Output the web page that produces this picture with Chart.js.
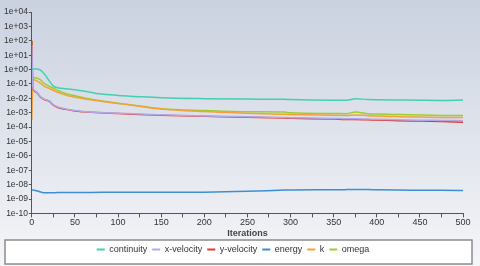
<!DOCTYPE html>
<html>
<head>
<meta charset="utf-8">
<script src="https://cdn.jsdelivr.net/npm/chart.js@4.4.1/dist/chart.umd.min.js"></script>
<style>
  html, body { margin: 0; padding: 0; background: #fff; }
  #wrap { width: 480px; height: 266px; }
</style>
</head>
<body>
<div id="wrap"><canvas id="residuals"></canvas></div>
<script>
// residual history
const iterations = [0, 1, 5, 10, 15, 20, 25, 30, 40, 50, 60, 80, 100, 125, 150, 200, 250, 293, 300, 350, 365, 375, 390, 400, 425, 450, 475, 500];
const continuity = [1.0, 1.1, 1.1, 0.9, 0.45, 0.17, 0.07, 0.055, 0.047, 0.04, 0.032, 0.02, 0.016, 0.013, 0.011, 0.0095, 0.0088, 0.0086, 0.0082, 0.0074, 0.0074, 0.0095, 0.0082, 0.0079, 0.0076, 0.0073, 0.0071, 0.0075];
const xVelocity = [50, 0.062, 0.03, 0.013, 0.0085, 0.0068, 0.0036, 0.0025, 0.0018, 0.0014, 0.0012, 0.00103, 0.00093, 0.0008, 0.00072, 0.0006, 0.00052, 0.00046, 0.00045, 0.0004, 0.00038, 0.00038, 0.00036, 0.00035, 0.00032, 0.0003, 0.00029, 0.00028];
const yVelocity = [100, 0.058, 0.027, 0.012, 0.008, 0.0063, 0.0033, 0.0023, 0.0017, 0.0013, 0.00115, 0.00098, 0.00088, 0.00075, 0.00067, 0.00056, 0.00048, 0.00042, 0.00041, 0.00036, 0.00034, 0.00034, 0.00032, 0.00031, 0.00028, 0.00026, 0.00024, 0.00022];
const energy = [4.2e-9, 4.2e-9, 3.8e-9, 3.1e-9, 2.7e-9, 2.7e-9, 2.75e-9, 2.8e-9, 2.8e-9, 2.85e-9, 2.85e-9, 2.9e-9, 2.9e-9, 2.95e-9, 2.95e-9, 3.0e-9, 3.4e-9, 4.2e-9, 4.3e-9, 4.4e-9, 4.5e-9, 4.6e-9, 4.5e-9, 4.4e-9, 4.2e-9, 4.1e-9, 4.0e-9, 3.9e-9];
const kResid = [0.0003, 0.2, 0.17, 0.11, 0.065, 0.049, 0.035, 0.026, 0.016, 0.012, 0.0094, 0.0063, 0.0044, 0.0028, 0.0018, 0.0012, 0.00093, 0.00078, 0.00076, 0.00066, 0.00065, 0.0007, 0.00062, 0.00058, 0.00053, 0.0005, 0.00047, 0.00046];
const omega = [100, 0.3, 0.26, 0.19, 0.1, 0.07, 0.05, 0.035, 0.021, 0.015, 0.011, 0.0068, 0.0046, 0.0029, 0.0019, 0.0014, 0.00115, 0.0011, 0.00098, 0.00088, 0.00086, 0.0011, 0.00084, 0.0008, 0.00074, 0.00069, 0.00065, 0.00063];

const decadeTicks = [1e-10, 1e-9, 1e-8, 1e-7, 1e-6, 1e-5, 1e-4, 1e-3, 1e-2, 1e-1, 1, 1e1, 1e2, 1e3, 1e4];

const toPoints = vals => vals.map((v, i) => ({ x: iterations[i], y: v }));

const series = [
  { label: 'continuity', data: continuity, color: '#45cfb0' },
  { label: 'x-velocity', data: xVelocity, color: '#b3a8e6' },
  { label: 'y-velocity', data: yVelocity, color: '#e8352f' },
  { label: 'energy', data: energy, color: '#3d8fd4' },
  { label: 'k', data: kResid, color: '#f4a03c' },
  { label: 'omega', data: omega, color: '#9bcf2c' }
];

// gradient backdrop + framed legend
const backdrop = {
  id: 'backdrop',
  beforeDraw(chart) {
    const ctx = chart.ctx;
    const g = ctx.createLinearGradient(0, 0, 0, chart.height);
    g.addColorStop(0, '#cad2e0');
    g.addColorStop(0.8, '#eceef3');
    g.addColorStop(1, '#f5f6f8');
    ctx.save();
    ctx.fillStyle = g;
    ctx.fillRect(0, 0, chart.width, chart.height);
    const lg = chart.legend;
    ctx.fillStyle = '#ffffff';
    ctx.fillRect(5, lg.top, 467, lg.bottom - lg.top);
    ctx.strokeStyle = '#8c8c8c';
    ctx.lineWidth = 1.5;
    ctx.strokeRect(5, lg.top, 467, lg.bottom - lg.top);
    ctx.restore();
  }
};

const sup = (n) => {
  const e = Math.round(Math.log10(n));
  const s = Math.abs(e) < 10 ? '0' + Math.abs(e) : '' + Math.abs(e);
  return '1e' + (e < 0 ? '-' : '+') + s;
};

new Chart(document.getElementById('residuals'), {
  type: 'line',
  data: {
    datasets: series.map(s => ({
      label: s.label,
      data: toPoints(s.data),
      borderColor: s.color,
      backgroundColor: s.color,
      borderWidth: 1.5,
      pointRadius: 0,
      cubicInterpolationMode: 'monotone',
      fill: false
    }))
  },
  options: {
    responsive: true,
    maintainAspectRatio: false,
    animation: false,
    layout: { padding: { left: 3, right: 17, top: 12, bottom: 2 } },
    scales: {
      x: {
        type: 'linear',
        min: 0,
        max: 500,
        ticks: {
          stepSize: 25,
          maxRotation: 0,
          autoSkip: false,
          color: '#333',
          font: { family: 'Liberation Sans', size: 9 },
          padding: 0,
          callback: v => (v % 50 === 0 ? v : '')
        },
        grid: { drawOnChartArea: false, drawTicks: true, tickLength: 4, tickColor: '#555' },
        border: { display: true, color: '#555', width: 1 },
        title: {
          display: true,
          text: 'Iterations',
          color: '#444',
          font: { family: 'Liberation Sans', size: 9, weight: '600' },
          padding: { top: 0, bottom: 1 }
        }
      },
      y: {
        type: 'logarithmic',
        min: 1e-10,
        max: 1e4,
        afterBuildTicks: axis => { axis.ticks = decadeTicks.map(v => ({ value: v })); },
        ticks: {
          color: '#333',
          font: { family: 'Liberation Sans', size: 8.5 },
          padding: 1,
          callback: v => sup(v)
        },
        grid: { drawOnChartArea: false, drawTicks: true, tickLength: 3, tickColor: '#555' },
        border: { display: true, color: '#555', width: 1 }
      }
    },
    plugins: {
      legend: {
        position: 'bottom',
        labels: {
          boxWidth: 8,
          boxHeight: 2,
          padding: 5,
          color: '#333',
          font: { family: 'Liberation Sans', size: 9 },
          generateLabels: chart => Chart.defaults.plugins.legend.labels.generateLabels(chart).map(it => ({ ...it, lineWidth: 0 }))
        }
      },
      tooltip: { enabled: false }
    }
  },
  plugins: [backdrop]
});
</script>
</body>
</html>
